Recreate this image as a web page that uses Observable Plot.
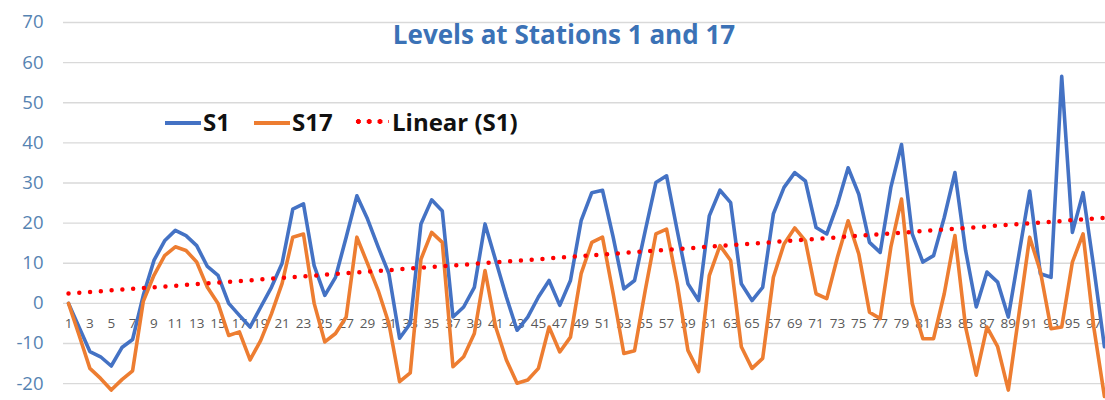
<!DOCTYPE html>
<html>
<head>
<meta charset="utf-8">
<script src="https://cdn.jsdelivr.net/npm/d3@7"></script>
<script src="https://cdn.jsdelivr.net/npm/@observablehq/plot@0.6"></script>
<style>
  body { margin: 0; background: #fff; }
  #wrap { position: relative; width: 1105px; height: 400px; overflow: hidden; font-family: "Open Sans", sans-serif; }
  #wrap svg { position: absolute; left: 0; top: 0; }
  #title { position: absolute; left: 0; width: 1128px; top: 16px; text-align: center; font-weight: 700; font-size: 26px; line-height: 36px; color: #3b72b6; pointer-events: none; }
  .lg { position: absolute; font-weight: 700; font-size: 24px; line-height: 30px; color: #111; top: 107px; white-space: nowrap; }
  .sw { position: absolute; height: 0; top: 121px; width: 36px; }
</style>
</head>
<body>
<div id="wrap">
  <div id="title">Levels at Stations 1 and 17</div>
</div>
<script>
// Category index (station reading number)
const categories = [1,2,3,4,5,6,7,8,9,10,11,12,13,14,15,16,17,18,19,20,21,22,23,24,25,26,27,28,29,30,31,32,33,34,35,36,37,38,39,40,41,42,43,44,45,46,47,48,49,50,51,52,53,54,55,56,57,58,59,60,61,62,63,64,65,66,67,68,69,70,71,72,73,74,75,76,77,78,79,80,81,82,83,84,85,86,87,88,89,90,91,92,93,94,95,96,97,98];

// Series S1 (blue)
const s1 = [0,-6,-12,-13.3,-15.6,-11,-9,2,10.7,15.6,18.2,16.9,14.4,9.2,7,0,-3,-5.9,-0.9,4,
  10,23.5,24.8,9.4,2,6.5,16.5,26.8,21,14,7.4,-8.7,-5,19.8,25.8,23,-3.4,-0.9,4,19.8,
  10.7,1.6,-6.7,-3.4,1.6,5.7,-0.5,5.7,20.6,27.6,28.2,16.5,3.6,5.7,18.1,30.1,31.8,18.1,4.9,0.7,
  21.8,28.2,25.1,4.9,0.7,4,22.3,28.9,32.6,30.5,18.9,17.3,24.7,33.8,27.2,15.2,12.7,28.9,39.6,17.3,
  10.3,11.9,21.4,32.6,13.2,-0.9,7.8,5.3,-3.4,12.3,28,7.4,6.5,56.6,17.7,27.6,9,-10.8];

// Series S17 (orange)
const s17 = [0,-8,-16.2,-18.7,-21.6,-19,-16.8,0.5,7,11.9,14.1,13.2,10.3,4,0,-8,-7.1,-14.1,-9.2,-2.6,
  5,16.5,17.3,0,-9.6,-7.5,-3.4,16.5,9.9,3.2,-5,-19.5,-17.3,11,17.7,15.2,-15.8,-13.3,-7.5,8.2,
  -5.9,-14.1,-19.9,-19.1,-16.2,-5.9,-12.1,-8.4,7.4,15.2,16.5,2.4,-12.5,-11.8,3.2,17.3,18.5,4.9,-11.7,-17,
  6.9,14.4,10.7,-10.8,-16.2,-13.7,6.5,14.8,18.8,15.6,2.4,1.2,11.5,20.6,12.3,-2.2,-3.8,14,26,0,
  -8.8,-8.8,2.4,16.9,-5.9,-17.9,-5.9,-10.8,-21.6,-2.6,16.5,8,-6.3,-5.9,10.3,17.3,-5.9,-23.2];

// Axis tick labels
const yTicks = [-20,-10,0,10,20,30,40,50,60,70];
const xTickLabels = [1,3,5,7,9,11,13,15,17,19,21,23,25,27,29,31,33,35,37,39,41,43,45,47,49,51,53,55,57,59,61,63,65,67,69,71,73,75,77,79,81,83,85,87,89,91,93,95,97];

const seriesNames = ["S1", "S17", "Linear (S1)"];
const seriesColors = ["#4472C4", "#ED7D31", "#FF0000"];

const data = categories.map((c, i) => ({x: c, s1: s1[i], s17: s17[i]}));
const xLabelRows = xTickLabels.map(v => ({x: v, y: 0, label: String(v)}));

const chart = Plot.plot({
  width: 1105,
  height: 400,
  marginLeft: 63,
  marginRight: 0,
  marginTop: 22,
  marginBottom: 0,
  style: {fontFamily: "'Open Sans', sans-serif", background: "transparent", overflow: "visible"},
  x: {domain: [0.53, 98.1], axis: null},
  y: {domain: [-24.2, 70], axis: null},
  marks: [
    Plot.gridY(yTicks, {stroke: "#d9d9d9", strokeOpacity: 1, strokeWidth: 1.3}),
    Plot.text(yTicks, {y: d => d, text: d => String(d), frameAnchor: "left", textAnchor: "end", dx: -20, fontSize: 18.5, fill: "#5683b2"}),
    Plot.text(xLabelRows, {x: "x", y: "y", text: "label", dy: 20, fontSize: 13.5, fill: "#595959"}),
    Plot.line(data, {x: "x", y: "s1", stroke: seriesColors[0], strokeWidth: 3.6, strokeLinejoin: "round", strokeLinecap: "round"}),
    Plot.line(data, {x: "x", y: "s17", stroke: seriesColors[1], strokeWidth: 3.6, strokeLinejoin: "round", strokeLinecap: "round"}),
    Plot.linearRegressionY(data, {x: "x", y: "s1", stroke: seriesColors[2], ci: 0, strokeWidth: 4.5, strokeDasharray: "0 10.8", strokeLinecap: "round", strokeOpacity: 1})
  ]
});

const wrap = document.getElementById("wrap");
wrap.insertBefore(chart, wrap.firstChild);

// Legend overlay
const legendItems = [
  {sw: 165, tx: 203},
  {sw: 254, tx: 292},
  {sw: 353, tx: 392}
];
seriesNames.forEach((name, i) => {
  const sw = document.createElement("div");
  sw.className = "sw";
  sw.style.left = legendItems[i].sw + "px";
  if (i < 2) {
    sw.style.borderTop = "4px solid " + seriesColors[i];
  } else {
    sw.style.height = "5px";
    sw.style.top = "119px";
    sw.style.backgroundImage = "radial-gradient(circle, " + seriesColors[i] + " 2.2px, transparent 2.6px)";
    sw.style.backgroundSize = "10.8px 5px";
    sw.style.backgroundRepeat = "repeat-x";
  }
  wrap.appendChild(sw);
  const t = document.createElement("div");
  t.className = "lg";
  t.style.left = legendItems[i].tx + "px";
  t.textContent = name;
  wrap.appendChild(t);
});
</script>
</body>
</html>
